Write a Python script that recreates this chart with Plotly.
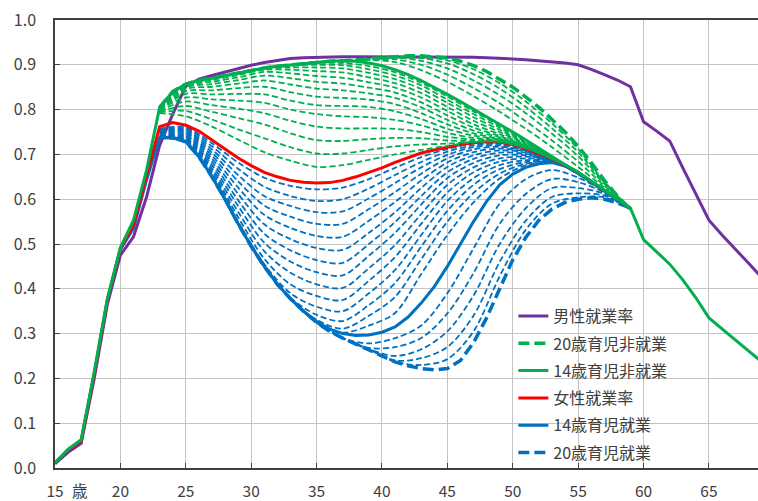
import plotly.graph_objects as go

# ---------------- data ----------------
AGES_ALL = list(range(15, 70))      # 15..69
AGES_MAIN = list(range(15, 60))     # 15..59
AGES_LATE = list(range(23, 60))     # 23..59
FAM_AGES = [23, 25, 27, 29, 31, 33, 35, 37, 39, 41, 43, 45, 47, 49, 51, 53, 55, 57, 59]
X_TICKS = [15, 20, 25, 30, 35, 40, 45, 50, 55, 60, 65]
X_TICK_TEXT = ["15", "20", "25", "30", "35", "40", "45", "50", "55", "60", "65"]
Y_TICKS = [0.0, 0.1, 0.2, 0.3, 0.4, 0.5, 0.6, 0.7, 0.8, 0.9, 1.0]

MALE = [0.010, 0.035, 0.055, 0.200, 0.365, 0.475, 0.516, 0.605,
        0.720, 0.790, 0.852, 0.868, 0.876, 0.884, 0.892, 0.899, 0.905, 0.910, 0.914, 0.916, 0.917, 0.918, 0.918,
        0.918, 0.918, 0.918, 0.918, 0.918, 0.918, 0.918, 0.918, 0.918, 0.917, 0.916, 0.915, 0.913, 0.911, 0.909,
        0.907, 0.904, 0.900, 0.890, 0.878, 0.866, 0.851,
        0.773, 0.752, 0.730, 0.670, 0.610, 0.553, 0.520, 0.490, 0.458, 0.426]

GREEN14 = [0.012, 0.042, 0.063, 0.215, 0.378, 0.492, 0.553, 0.665,
           0.805, 0.840, 0.857, 0.865, 0.870, 0.876, 0.882, 0.888, 0.893, 0.897, 0.900, 0.903, 0.906, 0.908, 0.909,
           0.908, 0.904, 0.898, 0.889, 0.878, 0.865, 0.850, 0.834, 0.818, 0.801, 0.785, 0.768, 0.750, 0.732, 0.713,
           0.695, 0.677, 0.660, 0.640, 0.620, 0.600, 0.580,
           0.510, 0.482, 0.455, 0.420, 0.380, 0.335, 0.310, 0.287, 0.262, 0.238]

GREEN20 = [0.805, 0.840, 0.857, 0.865, 0.870, 0.876, 0.882, 0.888, 0.893, 0.897, 0.900, 0.903, 0.906, 0.908, 0.909,
           0.911, 0.913, 0.916, 0.918, 0.920, 0.920, 0.918, 0.915, 0.908, 0.898, 0.885, 0.868, 0.850, 0.828, 0.805,
           0.778, 0.750, 0.718, 0.682, 0.642, 0.607, 0.578]

FEMALE = [0.010, 0.040, 0.060, 0.210, 0.375, 0.490, 0.542, 0.650,
          0.762, 0.771, 0.765, 0.752, 0.733, 0.712, 0.692, 0.675, 0.660, 0.650, 0.642, 0.638, 0.636, 0.637, 0.642,
          0.650, 0.660, 0.670, 0.682, 0.693, 0.703, 0.710, 0.716, 0.722, 0.726, 0.728, 0.727, 0.722, 0.713, 0.702,
          0.690, 0.676, 0.660, 0.640, 0.620, 0.600, 0.580]

BLUE14 = [0.010, 0.040, 0.060, 0.210, 0.372, 0.488, 0.535, 0.643,
          0.737, 0.738, 0.728, 0.695, 0.650, 0.600, 0.545, 0.495, 0.450, 0.410, 0.378, 0.350, 0.327, 0.310, 0.300,
          0.296, 0.297, 0.303, 0.315, 0.337, 0.368, 0.405, 0.450, 0.500, 0.550, 0.595, 0.632, 0.656, 0.671, 0.679,
          0.682, 0.674, 0.658, 0.638, 0.617, 0.598, 0.578]

BLUE20 = [0.737, 0.738, 0.728, 0.695, 0.650, 0.600, 0.545, 0.495, 0.450, 0.410, 0.378, 0.350, 0.325, 0.305, 0.290,
          0.277, 0.265, 0.250, 0.237, 0.228, 0.222, 0.219, 0.222, 0.240, 0.280, 0.335, 0.400, 0.465, 0.515, 0.553,
          0.578, 0.593, 0.600, 0.603, 0.600, 0.592, 0.580]

# intermediate green dashed lines (non-employment cases), values at FAM_AGES
GREEN_FAMILY = [
    [0.792, 0.785, 0.762, 0.733, 0.705, 0.686, 0.672, 0.676, 0.688, 0.700, 0.710, 0.719, 0.727, 0.728, 0.714, 0.690, 0.660, 0.620, 0.580],
    [0.794, 0.797, 0.778, 0.756, 0.736, 0.716, 0.702, 0.702, 0.710, 0.718, 0.722, 0.724, 0.728, 0.728, 0.714, 0.690, 0.660, 0.620, 0.580],
    [0.796, 0.808, 0.795, 0.781, 0.767, 0.747, 0.732, 0.730, 0.734, 0.737, 0.736, 0.731, 0.730, 0.729, 0.715, 0.690, 0.660, 0.620, 0.580],
    [0.798, 0.818, 0.810, 0.802, 0.792, 0.775, 0.762, 0.758, 0.758, 0.757, 0.750, 0.739, 0.733, 0.730, 0.715, 0.691, 0.660, 0.620, 0.580],
    [0.800, 0.827, 0.823, 0.820, 0.815, 0.800, 0.790, 0.785, 0.783, 0.777, 0.765, 0.748, 0.737, 0.731, 0.716, 0.691, 0.660, 0.620, 0.580],
    [0.801, 0.835, 0.834, 0.835, 0.834, 0.820, 0.810, 0.808, 0.806, 0.796, 0.779, 0.757, 0.742, 0.733, 0.716, 0.691, 0.660, 0.620, 0.580],
    [0.802, 0.841, 0.843, 0.848, 0.851, 0.839, 0.829, 0.826, 0.822, 0.812, 0.792, 0.767, 0.747, 0.735, 0.717, 0.692, 0.660, 0.620, 0.580],
    [0.803, 0.846, 0.851, 0.858, 0.865, 0.856, 0.847, 0.843, 0.836, 0.826, 0.805, 0.777, 0.753, 0.738, 0.718, 0.692, 0.660, 0.620, 0.580],
    [0.804, 0.850, 0.857, 0.866, 0.876, 0.870, 0.862, 0.858, 0.849, 0.838, 0.816, 0.787, 0.760, 0.741, 0.719, 0.692, 0.660, 0.620, 0.580],
    [0.804, 0.853, 0.862, 0.872, 0.884, 0.881, 0.875, 0.871, 0.861, 0.849, 0.827, 0.797, 0.767, 0.745, 0.721, 0.693, 0.660, 0.620, 0.580],
    [0.805, 0.855, 0.866, 0.877, 0.889, 0.889, 0.886, 0.883, 0.872, 0.859, 0.837, 0.806, 0.775, 0.750, 0.723, 0.693, 0.660, 0.620, 0.580],
    [0.805, 0.856, 0.868, 0.880, 0.891, 0.894, 0.894, 0.892, 0.882, 0.868, 0.846, 0.815, 0.783, 0.755, 0.725, 0.694, 0.660, 0.620, 0.580],
    [0.805, 0.857, 0.869, 0.881, 0.892, 0.898, 0.900, 0.899, 0.890, 0.876, 0.854, 0.822, 0.790, 0.760, 0.727, 0.694, 0.660, 0.620, 0.580],
    [0.805, 0.857, 0.870, 0.882, 0.893, 0.900, 0.904, 0.904, 0.897, 0.883, 0.860, 0.829, 0.796, 0.764, 0.730, 0.695, 0.660, 0.620, 0.580],
    [0.805, 0.857, 0.870, 0.882, 0.893, 0.900, 0.906, 0.909, 0.911, 0.906, 0.888, 0.862, 0.830, 0.795, 0.757, 0.716, 0.672, 0.626, 0.580],
    [0.805, 0.857, 0.870, 0.882, 0.893, 0.900, 0.906, 0.909, 0.912, 0.912, 0.900, 0.878, 0.848, 0.814, 0.774, 0.731, 0.684, 0.630, 0.580],
    [0.805, 0.857, 0.870, 0.882, 0.893, 0.900, 0.906, 0.909, 0.913, 0.916, 0.909, 0.892, 0.865, 0.832, 0.792, 0.746, 0.696, 0.634, 0.580],
    [0.805, 0.857, 0.870, 0.882, 0.893, 0.900, 0.906, 0.909, 0.913, 0.917, 0.915, 0.903, 0.879, 0.847, 0.806, 0.758, 0.705, 0.637, 0.578],
    [0.805, 0.857, 0.870, 0.882, 0.893, 0.900, 0.906, 0.909, 0.913, 0.918, 0.918, 0.910, 0.890, 0.859, 0.818, 0.769, 0.712, 0.639, 0.578],
]

# intermediate blue dashed lines (employment cases), values at FAM_AGES
BLUE_FAMILY = [
    [0.758, 0.760, 0.725, 0.682, 0.648, 0.630, 0.622, 0.626, 0.645, 0.670, 0.694, 0.712, 0.724, 0.725, 0.712, 0.690, 0.660, 0.620, 0.580],
    [0.755, 0.757, 0.718, 0.668, 0.628, 0.607, 0.596, 0.600, 0.624, 0.654, 0.683, 0.706, 0.720, 0.723, 0.711, 0.690, 0.660, 0.620, 0.580],
    [0.752, 0.754, 0.711, 0.654, 0.607, 0.585, 0.571, 0.573, 0.602, 0.636, 0.671, 0.699, 0.716, 0.720, 0.710, 0.689, 0.660, 0.620, 0.580],
    [0.750, 0.751, 0.704, 0.640, 0.586, 0.561, 0.545, 0.545, 0.578, 0.616, 0.657, 0.691, 0.711, 0.717, 0.708, 0.689, 0.659, 0.620, 0.580],
    [0.748, 0.748, 0.697, 0.626, 0.565, 0.536, 0.518, 0.516, 0.552, 0.594, 0.642, 0.682, 0.705, 0.713, 0.706, 0.688, 0.659, 0.620, 0.580],
    [0.746, 0.745, 0.690, 0.612, 0.544, 0.511, 0.491, 0.487, 0.525, 0.571, 0.625, 0.672, 0.698, 0.709, 0.704, 0.688, 0.659, 0.619, 0.580],
    [0.744, 0.742, 0.683, 0.598, 0.523, 0.486, 0.464, 0.458, 0.500, 0.549, 0.607, 0.660, 0.690, 0.704, 0.701, 0.687, 0.658, 0.619, 0.580],
    [0.742, 0.739, 0.676, 0.585, 0.503, 0.461, 0.437, 0.430, 0.474, 0.525, 0.588, 0.647, 0.681, 0.698, 0.698, 0.687, 0.658, 0.619, 0.580],
    [0.741, 0.736, 0.669, 0.572, 0.484, 0.436, 0.410, 0.402, 0.446, 0.498, 0.567, 0.632, 0.671, 0.691, 0.695, 0.686, 0.658, 0.619, 0.580],
    [0.740, 0.734, 0.663, 0.560, 0.467, 0.410, 0.384, 0.375, 0.418, 0.471, 0.545, 0.615, 0.660, 0.684, 0.691, 0.686, 0.657, 0.618, 0.580],
    [0.739, 0.732, 0.658, 0.550, 0.455, 0.390, 0.360, 0.350, 0.390, 0.442, 0.520, 0.596, 0.647, 0.676, 0.687, 0.685, 0.657, 0.618, 0.580],
    [0.738, 0.730, 0.654, 0.547, 0.450, 0.380, 0.342, 0.328, 0.364, 0.413, 0.494, 0.574, 0.632, 0.667, 0.683, 0.685, 0.657, 0.618, 0.580],
    [0.737, 0.729, 0.651, 0.545, 0.450, 0.378, 0.331, 0.311, 0.340, 0.382, 0.466, 0.550, 0.614, 0.657, 0.679, 0.684, 0.656, 0.618, 0.580],
    [0.737, 0.728, 0.650, 0.545, 0.450, 0.378, 0.327, 0.302, 0.318, 0.346, 0.433, 0.520, 0.593, 0.646, 0.676, 0.684, 0.656, 0.618, 0.580],
    [0.737, 0.728, 0.650, 0.545, 0.450, 0.378, 0.325, 0.290, 0.278, 0.290, 0.318, 0.390, 0.490, 0.590, 0.645, 0.665, 0.648, 0.618, 0.580],
    [0.737, 0.728, 0.650, 0.545, 0.450, 0.378, 0.325, 0.290, 0.268, 0.270, 0.290, 0.345, 0.435, 0.545, 0.612, 0.645, 0.638, 0.615, 0.580],
    [0.737, 0.728, 0.650, 0.545, 0.450, 0.378, 0.325, 0.290, 0.265, 0.250, 0.265, 0.305, 0.385, 0.500, 0.580, 0.625, 0.625, 0.612, 0.580],
    [0.737, 0.728, 0.650, 0.545, 0.450, 0.378, 0.325, 0.290, 0.265, 0.240, 0.245, 0.270, 0.340, 0.460, 0.552, 0.605, 0.613, 0.608, 0.580],
    [0.737, 0.728, 0.650, 0.545, 0.450, 0.378, 0.325, 0.290, 0.265, 0.237, 0.230, 0.243, 0.305, 0.428, 0.532, 0.590, 0.604, 0.604, 0.580],
]

LABELS = {
    "male": "男性就業率",
    "g20": "20歳育児非就業",
    "g14": "14歳育児非就業",
    "female": "女性就業率",
    "b14": "14歳育児就業",
    "b20": "20歳育児就業",
}

PURPLE = "#7030A0"
GREEN = "#00B050"
RED = "#FF0000"
BLUE = "#0070C0"
FONT = "Noto Sans CJK JP"
TXT = "#404040"

fig = go.Figure()

fig.add_trace(go.Scatter(x=AGES_ALL, y=MALE, mode="lines", name=LABELS["male"],
                         line=dict(color=PURPLE, width=3), legendrank=1, legendgroup="m"))

for row in BLUE_FAMILY:
    fig.add_trace(go.Scatter(x=FAM_AGES, y=row, mode="lines", showlegend=False, hoverinfo="skip",
                             line=dict(color=BLUE, width=1.8, dash="6px,3px", shape="spline", smoothing=0.9)))

fig.add_trace(go.Scatter(x=AGES_LATE, y=BLUE20, mode="lines", name=LABELS["b20"],
                         line=dict(color=BLUE, width=3.5, dash="11px,5px"), legendrank=6, legendgroup="b20"))
fig.add_trace(go.Scatter(x=AGES_MAIN, y=BLUE14, mode="lines", name=LABELS["b14"],
                         line=dict(color=BLUE, width=3), legendrank=5, legendgroup="b14"))
fig.add_trace(go.Scatter(x=AGES_MAIN, y=FEMALE, mode="lines", name=LABELS["female"],
                         line=dict(color=RED, width=3), legendrank=4, legendgroup="f"))

for row in GREEN_FAMILY:
    fig.add_trace(go.Scatter(x=FAM_AGES, y=row, mode="lines", showlegend=False, hoverinfo="skip",
                             line=dict(color=GREEN, width=1.8, dash="6px,3px", shape="spline", smoothing=0.9)))

fig.add_trace(go.Scatter(x=AGES_ALL, y=GREEN14, mode="lines", name=LABELS["g14"],
                         line=dict(color=GREEN, width=3), legendrank=3, legendgroup="g14"))
fig.add_trace(go.Scatter(x=AGES_LATE, y=GREEN20, mode="lines", name=LABELS["g20"],
                         line=dict(color=GREEN, width=3.5, dash="11px,5px"), legendrank=2, legendgroup="g20"))

fig.add_annotation(text="歳", x=16.9, xref="x", y=-0.05, yref="paper", yanchor="middle",
                   xanchor="center", showarrow=False, font=dict(family=FONT, size=15.5, color=TXT))

fig.update_layout(
    width=758, height=501,
    margin=dict(l=55, r=0, t=20, b=33),
    paper_bgcolor="white", plot_bgcolor="white",
    font=dict(family=FONT, size=16, color=TXT),
    showlegend=True,
    legend=dict(x=0.652, y=0.377, xanchor="left", yanchor="top", bgcolor="rgba(0,0,0,0)",
                font=dict(family=FONT, size=16, color=TXT), tracegroupgap=3.5),
    xaxis=dict(range=[15, 68.75], tickvals=X_TICKS, ticktext=X_TICK_TEXT,
               showgrid=True, gridcolor="#c4c4c4", gridwidth=1,
               showline=True, linecolor="#404040", linewidth=1.5, mirror=True,
               ticks="inside", ticklen=5, tickcolor="#404040",
               zeroline=False, ticklabelstandoff=9, automargin=False,
               tickfont=dict(family=FONT, size=15.5, color=TXT)),
    yaxis=dict(range=[0, 1.0], tickvals=Y_TICKS, tickformat=".1f",
               showgrid=True, gridcolor="#c4c4c4", gridwidth=1,
               showline=True, linecolor="#404040", linewidth=1.5,
               ticks="inside", ticklen=5, tickcolor="#404040",
               zeroline=True, zerolinecolor=PURPLE, zerolinewidth=3,
               ticklabelstandoff=14, automargin=False,
               tickfont=dict(family=FONT, size=16, color=TXT)),
)

fig.write_html("out.html", config={"displayModeBar": False},
               post_script="document.body.style.margin='0';document.body.style.overflow='hidden';")
